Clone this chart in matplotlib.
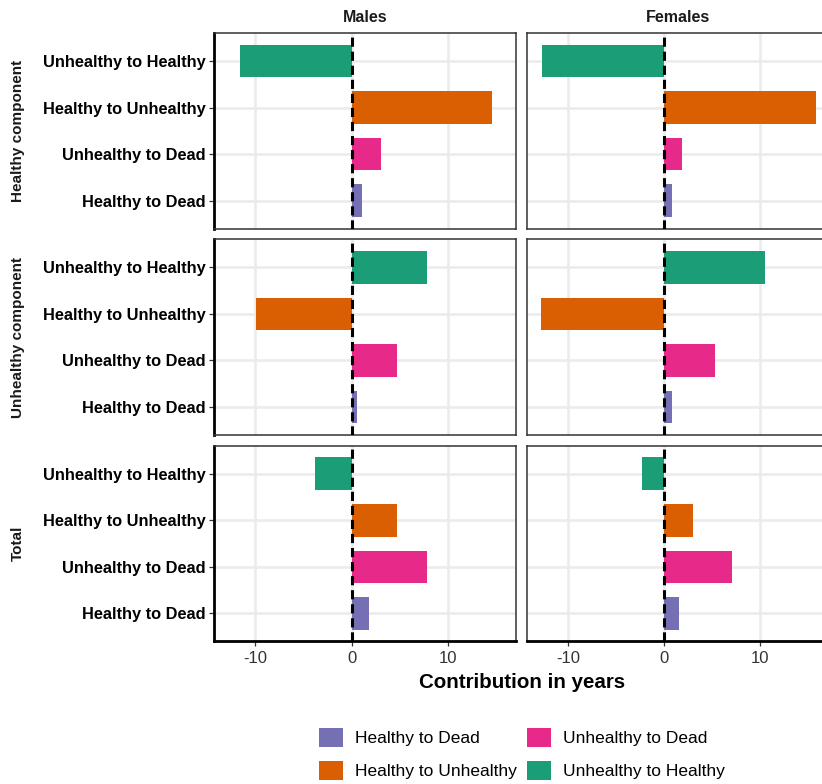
import matplotlib
matplotlib.use("Agg")
import matplotlib.pyplot as plt
from matplotlib.patches import Patch

plt.rcParams['font.family'] = ['Liberation Sans', 'DejaVu Sans']

# categories from bottom to top
categories = ["Healthy to Dead", "Unhealthy to Dead", "Healthy to Unhealthy", "Unhealthy to Healthy"]
colors = {"Healthy to Dead": "#7570B3", "Healthy to Unhealthy": "#D95F02",
          "Unhealthy to Dead": "#E7298A", "Unhealthy to Healthy": "#1B9E77"}

sexes = ["Males", "Females"]
components = ["Healthy component", "Unhealthy component", "Total"]

# values in same order as categories
males_healthy = [1.04, 3.05, 14.65, -11.6]
females_healthy = [0.83, 1.9, 15.9, -12.74]
males_unhealthy = [0.62, 4.68, -9.97, 7.84]
females_unhealthy = [0.8, 5.3, -12.84, 10.56]
males_total = [1.8, 7.81, 4.75, -3.75]
females_total = [1.53, 7.12, 3.02, -2.29]

values = [[males_healthy, females_healthy],
          [males_unhealthy, females_unhealthy],
          [males_total, females_total]]

W, H = 822, 784
fig = plt.figure(figsize=(W / 100, H / 100), dpi=100)

col_left = [214, 527]
col_width = [302, 301]
row_top = [33, 239.3, 445.7]
row_h = 195.7

border = "#333333"
grid_c = "#EBEBEB"

for r, comp in enumerate(components):
    for c, sex in enumerate(sexes):
        ax = fig.add_axes([col_left[c] / W, 1 - (row_top[r] + row_h) / H,
                           col_width[c] / W, row_h / H])
        vals = values[r][c]
        ypos = list(range(1, len(categories) + 1))
        ax.barh(ypos, vals, height=0.7,
                color=[colors[k] for k in categories], zorder=3)
        ax.axvline(0, color="black", linestyle=(0, (3, 1.6)), linewidth=2.2, zorder=4)
        ax.set_xlim(-14.3, 17.1)
        ax.set_ylim(0.4, 4.6)
        ax.set_xticks([-10, 0, 10])
        ax.set_yticks(ypos)
        ax.grid(True, color=grid_c, linewidth=1.8, zorder=0)
        ax.set_axisbelow(True)
        for s in ax.spines.values():
            s.set_color(border)
            s.set_linewidth(1.1)
        ax.tick_params(length=3.5, width=0.9, color=border)
        if c == 0:
            ax.set_yticklabels(categories, fontsize=11.8, fontweight="bold", color="black")
            ax.spines["left"].set_color("black")
            ax.spines["left"].set_linewidth(2)
            ax.tick_params(axis="y", pad=2.5)
        else:
            ax.tick_params(axis="y", left=False, labelleft=False)
        if r == 2:
            ax.set_xticklabels(["-10", "0", "10"], fontsize=12, color="#333333")
            ax.spines["bottom"].set_color("black")
            ax.spines["bottom"].set_linewidth(2)
        else:
            ax.tick_params(axis="x", bottom=False, labelbottom=False)
        if r == 0:
            fig.text((col_left[c] + col_width[c] / 2) / W, 1 - 17 / H, sex,
                     ha="center", va="center", fontsize=11.5, fontweight="bold",
                     color="#1A1A1A")
        if c == 0:
            fig.text(18 / W, 1 - (row_top[r] + row_h / 2) / H, comp,
                     rotation=90, ha="center", va="center", fontsize=11,
                     fontweight="bold", color="#1A1A1A")

fig.text(522 / W, 1 - 683 / H, "Contribution in years", ha="center", va="center",
         fontsize=14.8, fontweight="bold", color="black")

legend_order = ["Healthy to Dead", "Healthy to Unhealthy", "Unhealthy to Dead", "Unhealthy to Healthy"]
handles = [Patch(facecolor=colors[k], edgecolor="none", label=k) for k in legend_order]
fig.legend(handles=handles, ncol=2, loc="center", bbox_to_anchor=(522 / W, 1 - 754 / H),
           frameon=False, fontsize=12.5, handlelength=1.38, handleheight=1.38,
           handletextpad=0.7, columnspacing=0.6, labelspacing=0.75, borderpad=0)

fig.savefig("out.png", dpi=100)
